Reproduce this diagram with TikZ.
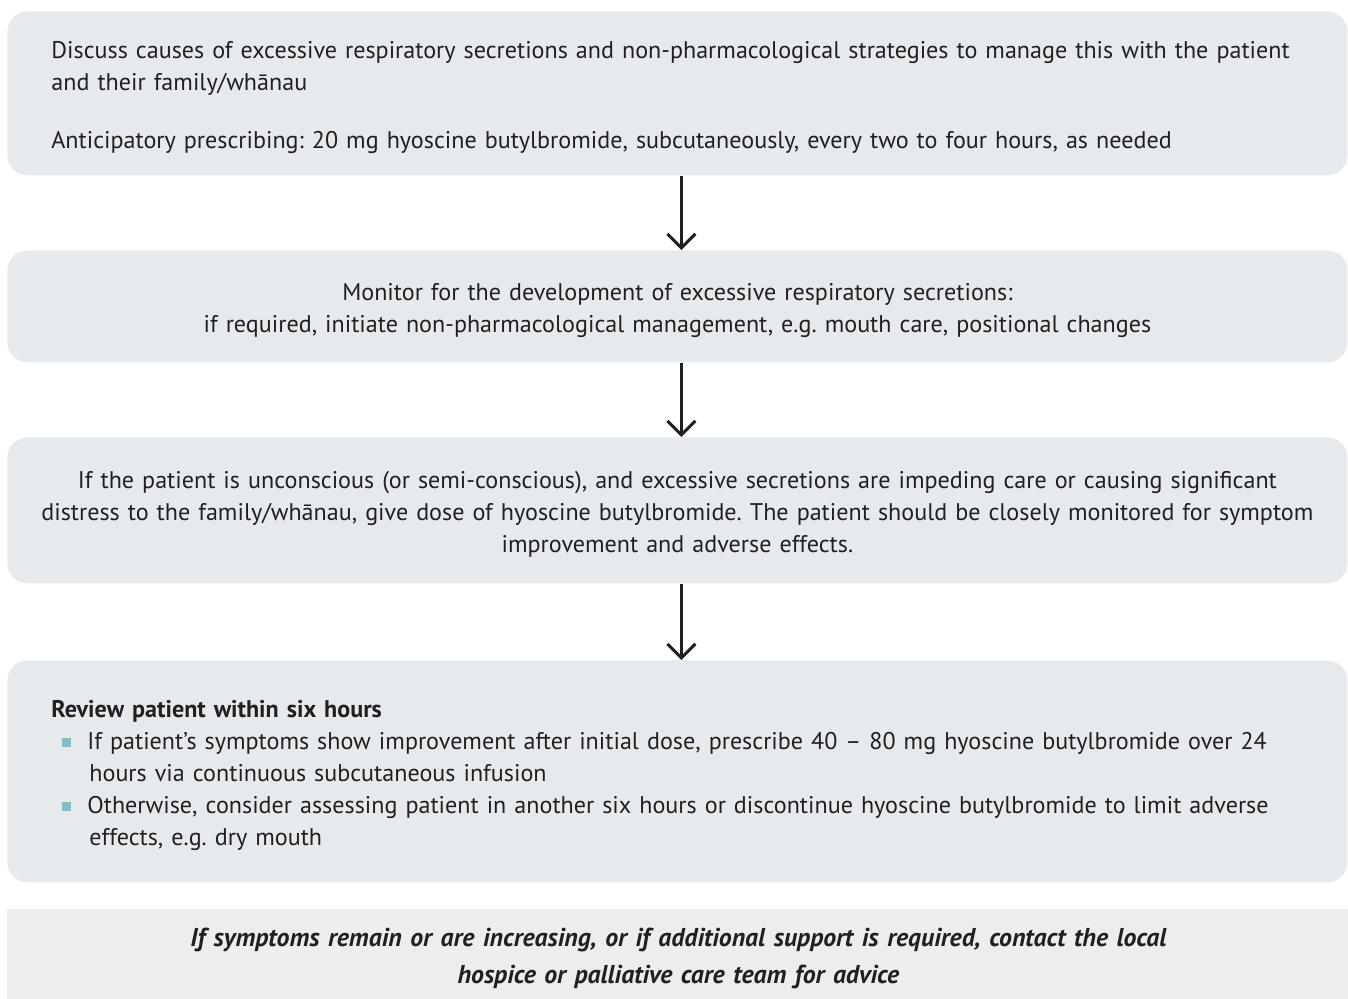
\documentclass[tikz,border=0pt]{standalone}
\usepackage{fontspec}
\setmainfont{PT Sans}
\usepackage{xcolor}
\usetikzlibrary{arrows.meta}

\definecolor{boxgray}{HTML}{E7EAED}
\definecolor{notegray}{HTML}{EDEDED}
\definecolor{inkdark}{HTML}{231F20}
\definecolor{bulletteal}{HTML}{7CC3C8}

\frenchspacing
\hyphenpenalty=10000
\exhyphenpenalty=10000

\newcommand{\bodyfont}{\fontsize{12.05}{16}\selectfont}
\newcommand{\toppad}{\rule{0pt}{12.8pt}}
\newcommand{\sqbullet}{\makebox[18pt][l]{\hspace{5.5pt}\textcolor{bulletteal}{\rule[1.2pt]{4.5pt}{4.5pt}}}}
\newcommand{\bulletitem}[1]{\par\hangindent=19pt\hangafter=1\noindent\sqbullet#1}

\begin{document}
\begin{tikzpicture}[x=0.5pt, y=-0.5pt, >={Straight Barb[length=7pt,width=14pt]},
    box/.style={fill=boxgray, rounded corners=10pt, anchor=north west,
        minimum width=670pt, inner ysep=0pt, text=inkdark, font=\bodyfont},
    leftbox/.style={box, inner xsep=22pt, text width=626pt, align=left},
    midbox/.style={box, inner xsep=10pt, text width=650pt, align=center},
    notebox/.style={fill=notegray, anchor=north west, minimum width=671pt,
        inner sep=0pt, text width=650pt, align=center, text=inkdark,
        font=\fontsize{12.9}{18.5}\selectfont\bfseries\itshape},
    flow/.style={->, line width=1.5pt, inkdark}]

    % the page, 1348 x 998 px
    \useasboundingbox (0,0) rectangle (1348,998);

    % Steps
    \node[leftbox, minimum height=82pt] (discuss) at (7,11)
        {\toppad Discuss causes of excessive respiratory secretions and non-pharmacological strategies to manage this with the patient\\
         and their family/whānau\\[13pt]
         Anticipatory prescribing: 20 mg hyoscine butylbromide, subcutaneously, every two to four hours, as needed};

    \node[midbox, minimum height=56pt] (monitor) at (7,250)
        {\toppad Monitor for the development of excessive respiratory secretions:\\
         if required, initiate non-pharmacological management, e.g. mouth care, positional changes};

    \node[midbox, minimum height=73pt] (dose) at (7,437)
        {\toppad If the patient is unconscious (or semi-conscious), and excessive secretions are impeding care or causing significant\\
         distress to the family/whānau, give dose of hyoscine butylbromide. The patient should be closely monitored for symptom\\
         improvement and adverse effects.};

    \node[leftbox, minimum height=111pt] (review) at (7,660)
        {\toppad\textbf{Review patient within six hours}%
         \bulletitem{If patient’s symptoms show improvement after initial dose, prescribe 40 – 80 mg hyoscine butylbromide over 24\newline
             hours via continuous subcutaneous infusion}%
         \bulletitem{Otherwise, consider assessing patient in another six hours or discontinue hyoscine butylbromide to limit adverse\newline
             effects, e.g. dry mouth}\par};

    % Footer note, runs off the bottom of the page
    \node[notebox, minimum height=49.5pt] (advice) at (7,909)
        {If symptoms remain or are increasing, or if additional support is required, contact the local\\
         hospice or palliative care team for advice};

    % Arrows
    \draw[flow] ([xshift=2pt]discuss.south) -- ([xshift=2pt]monitor.north);
    \draw[flow] ([xshift=2pt]monitor.south) -- ([xshift=2pt]dose.north);
    \draw[flow] ([xshift=2pt]dose.south) -- ([xshift=2pt]review.north);

\end{tikzpicture}
\end{document}
